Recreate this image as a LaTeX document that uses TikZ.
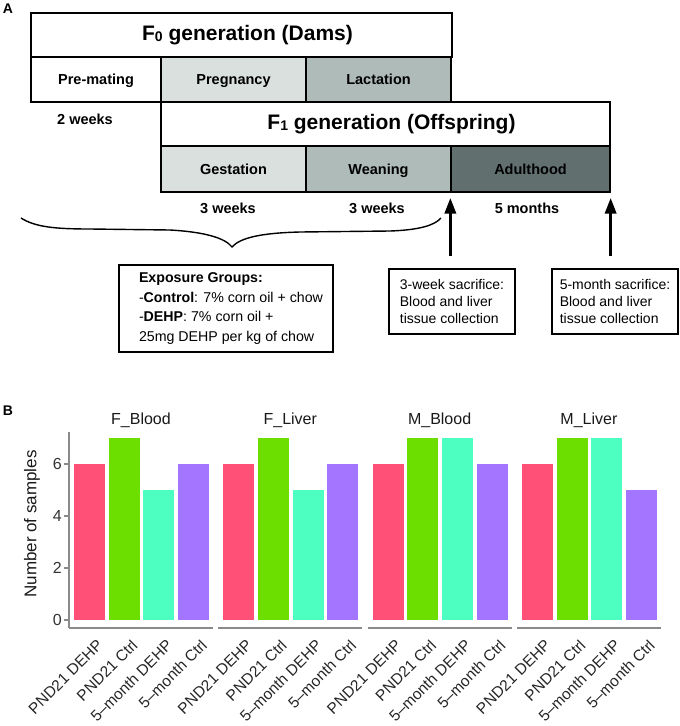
\documentclass[tikz,border=0pt]{standalone}
\usepackage{fontspec}
\setmainfont{Liberation Sans}
\usetikzlibrary{arrows.meta,positioning,calc}

\definecolor{lightphase}{HTML}{D9E0DE}
\definecolor{midphase}{HTML}{AEBBB8}
\definecolor{darkphase}{HTML}{61706F}
\definecolor{barred}{HTML}{FF5077}
\definecolor{bargreen}{HTML}{6CDF00}
\definecolor{baraqua}{HTML}{4DFFC1}
\definecolor{barpurple}{HTML}{A475FF}
\definecolor{axisgray}{HTML}{8A8A8A}

\newcommand{\gensub}[1]{\raisebox{-0.5pt}{\fontsize{14}{14}\selectfont #1}}

\begin{document}
\begin{tikzpicture}[
    x=1pt, y=-1pt,
    gentitle/.style={rectangle, draw, line width=1.3pt, minimum height=44pt, inner sep=0pt, text height=15pt, text depth=4pt, font=\fontsize{21}{24}\selectfont\bfseries},
    phase/.style={rectangle, draw, line width=1.3pt, minimum height=45pt, minimum width=145pt, inner sep=0pt, text height=10.5pt, text depth=0pt, font=\fontsize{14.5}{17}\selectfont\bfseries},
    span/.style={font=\fontsize{14.5}{17}\selectfont\bfseries},
    note/.style={rectangle, draw, line width=1.3pt, align=left, inner sep=0pt, font=\fontsize{14}{17.3}\selectfont},
    bigarrow/.style={-{Triangle[length=16pt,width=11pt]}, line width=3.5pt},
    panel/.style={font=\fontsize{16}{18}\selectfont, text=black!90},
    ticklab/.style={font=\fontsize{16}{18}\selectfont, text=black!80, anchor=east, inner sep=1pt},
    xlab/.style={font=\fontsize{15.5}{18}\selectfont, text=black!85, rotate=45, anchor=north east, inner sep=1pt},
    axisline/.style={draw=axisgray, line width=1.2pt}
]
    \useasboundingbox (0,0) rectangle (680,726);

    % panel letters
    \node[font=\fontsize{14}{16}\selectfont\bfseries] (lettera) at (8,9) {A};
    \node[font=\fontsize{14}{16}\selectfont\bfseries] (letterb) at (8,411) {B};

    % F0 generation
    \node[gentitle, minimum width=421pt] (fzero) at (241.5,35) {\hspace*{12pt}F\gensub{0} generation (Dams)};
    \node[phase, minimum width=130pt, fill=white] (premating) at (96,79.5) {Pre-mating};
    \node[phase, fill=lightphase] (pregnancy) at (233.5,79.5) {Pregnancy};
    \node[phase, fill=midphase] (lactation) at (378.5,79.5) {Lactation};

    % F1 generation
    \node[gentitle, minimum width=449pt] (fone) at (385.5,124) {\hspace*{12pt}F\gensub{1} generation (Offspring)};
    \node[phase, minimum height=46pt, fill=lightphase] (gestation) at (233.5,169) {Gestation};
    \node[phase, minimum height=46pt, fill=midphase] (weaning) at (378.5,169) {Weaning};
    \node[phase, minimum height=46pt, minimum width=159pt, fill=darkphase] (adult) at (530.5,169) {Adulthood};

    % durations
    \node[span] (twoweeks) at (85,119) {2 weeks};
    \node[span] (gestweeks) at (228,208) {3 weeks};
    \node[span] (weanweeks) at (377,208) {3 weeks};
    \node[span] (adultmonths) at (527,208) {5 months};

    % exposure brace
    \draw[line width=1.4pt] (21,218) .. controls (35,227) and (55,229) .. (90,229) -- (170,230)
        .. controls (205,232) and (225,238) .. (232,247)
        .. controls (240,238) and (260,233) .. (300,232) -- (390,231)
        .. controls (420,230) and (435,225) .. (441,218);

    % exposure groups
    \node[rectangle, draw, line width=1.3pt, minimum width=214pt, minimum height=87pt] (expo) at (226,308.5) {};
    \node[note, draw=none, anchor=west, font=\fontsize{14.2}{19.4}\selectfont] (expotext) at ([xshift=20pt]expo.west)
        {\textbf{Exposure Groups:}\\-\textbf{Control}: 7\% corn oil + chow\\-\textbf{DEHP}: 7\% corn oil +\\25mg DEHP per kg of chow};

    % sacrifice points
    \node[note, minimum width=126pt, minimum height=65pt] (sacthree) at (452,301.5) {3-week sacrifice:\\Blood and liver\\tissue collection};
    \node[note, minimum width=126pt, minimum height=65pt] (sacfive) at (615,301.5) {5-month sacrifice:\\Blood and liver\\tissue collection};

    \draw[bigarrow, shorten <=12pt, shorten >=5pt] (sacthree.north -| adult.south west) -- (adult.south west);
    \draw[bigarrow, shorten <=12pt, shorten >=5pt] (sacfive.north -| adult.south east) -- (adult.south east);

    % bar chart: y axis
    \draw[axisline] (69,432) -- (69,628);
    \foreach \v in {0,2,4,6} {
        \draw[axisline] (64,620-26*\v) -- (69,620-26*\v);
        \node[ticklab] (tick\v) at (63,620-26*\v) {\v};
    }
    \node[font=\fontsize{17}{19}\selectfont, text=black!90, rotate=90] (ytitle) at (32,524) {Number of samples};

    % bar chart: panels
    \foreach \k/\pname/\ha/\hb/\hc/\hd in {0/F\_Blood/6/7/5/6, 1/F\_Liver/6/7/5/6, 2/M\_Blood/6/7/7/6, 3/M\_Liver/6/7/7/5} {
        \node[panel] (title\k) at (141+149.3*\k,420) {\pname};
        \draw[axisline] (69+149.3*\k,628) -- (213+149.3*\k,628);
        \foreach \i/\h/\c in {0/\ha/barred, 1/\hb/bargreen, 2/\hc/baraqua, 3/\hd/barpurple} {
            \fill[\c] (74+149.3*\k+34.67*\i,620) rectangle (105+149.3*\k+34.67*\i,620-26*\h);
        }
        \foreach \i/\lab in {0/PND21 DEHP, 1/PND21 Ctrl, 2/5--month DEHP, 3/5--month Ctrl} {
            \node[xlab] (xlab\k\i) at (96+149.3*\k+34.67*\i,637) {\lab};
        }
    }
\end{tikzpicture}
\end{document}
